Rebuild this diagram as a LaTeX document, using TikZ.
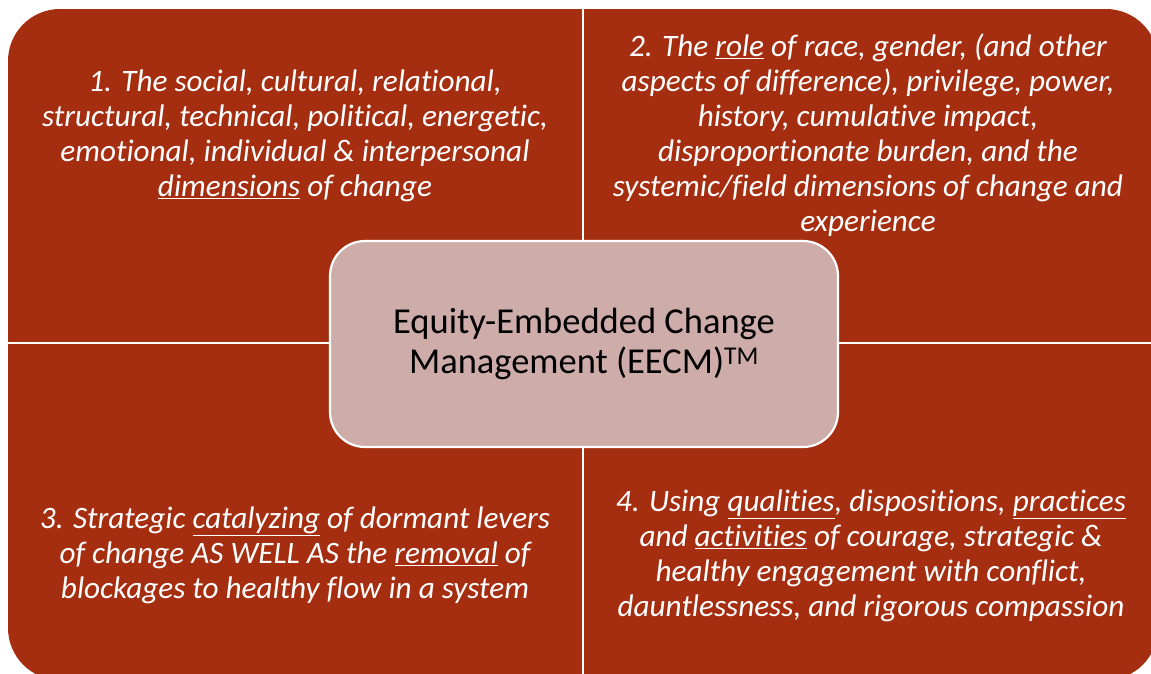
\documentclass[tikz,border=0pt]{standalone}
\usepackage{fontspec}
\setmainfont[Ligatures=NoCommon]{Carlito}
\definecolor{quadred}{RGB}{165,46,16}
\definecolor{corepink}{RGB}{205,172,169}
\begin{document}
\begin{tikzpicture}[x=1pt,y=-1pt,
  qtext/.style={text=white, font=\fontsize{31.2}{35}\selectfont\itshape, align=center, inner sep=0pt},
  ctext/.style={text=black, font=\fontsize{36.5}{40}\selectfont, align=center},
  divider/.style={white, line width=2.5pt}]
\useasboundingbox (0,0) rectangle (1151,673);
\clip (0,0) rectangle (1151,673);
\fill[quadred, rounded corners=52pt] (8,9) rectangle (1158,680);
\coordinate (vt) at (583,9);
\coordinate (vb) at (583,680);
\coordinate (hl) at (8,343);
\coordinate (hr) at (1158,343);
\draw[divider] (vt) -- (vb);
\draw[divider] (hl) -- (hr);
\node[ctext, draw=white, line width=2.2pt, fill=corepink, rounded corners=35pt,
      minimum width=508pt, minimum height=206pt] (core) at (584,344)
  {Equity-Embedded Change\\Management (EECM)\textsuperscript{TM}};
\node[qtext] (q1) at (295,136) {1. The social, cultural, relational,\\structural, technical, political, energetic,\\emotional, individual \& interpersonal\\\underline{dimensions} of change};
\node[qtext] (q2) at (868,135) {2. The \underline{role} of race, gender, (and other\\aspects of difference), privilege, power,\\history, cumulative impact,\\disproportionate burden, and the\\systemic/field dimensions of change and\\experience};
\node[qtext] (q3) at (295,555) {3. Strategic \underline{catalyzing} of dormant levers\\of change AS WELL AS the \underline{removal} of\\blockages to healthy flow in a system};
\node[qtext] (q4) at (871,556) {4. Using \underline{qualities}, dispositions, \underline{practices}\\and \underline{activities} of courage, strategic \&\\healthy engagement with conflict,\\dauntlessness, and rigorous compassion};
\end{tikzpicture}
\end{document}
